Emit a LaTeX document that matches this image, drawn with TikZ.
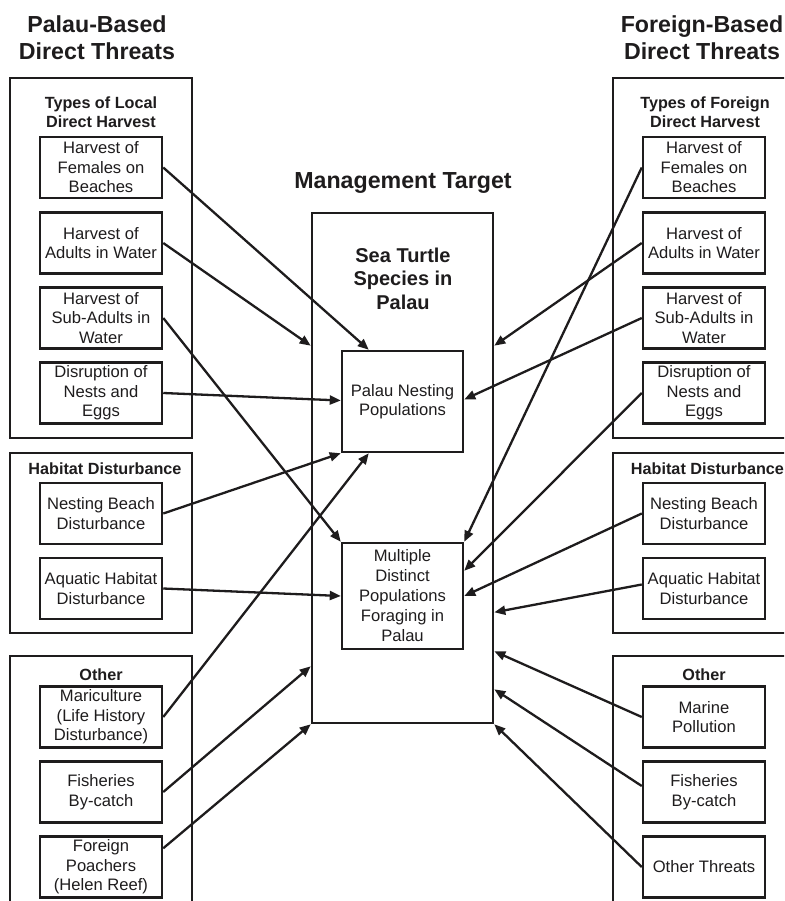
\documentclass[tikz,border=0pt]{standalone}
\usepackage{fontspec}
\setmainfont{Liberation Sans}
\usetikzlibrary{arrows.meta}

\definecolor{ink}{RGB}{30,28,29}

\begin{document}
\begin{tikzpicture}[x=1pt,y=-1pt,
  every node/.style={text=ink},
  itembox/.style={draw=ink,line width=2.5pt,minimum width=122pt,minimum height=61pt,
    inner sep=0pt,align=center,font=\fontsize{16.6}{19.5}\selectfont},
  grpframe/.style={draw=ink,line width=2.6pt},
  grplabel/.style={align=center,inner sep=0pt,font=\fontsize{16.2}{19}\selectfont\bfseries},
  headline/.style={align=center,inner sep=0pt,font=\fontsize{23.2}{26.5}\selectfont\bfseries},
  conn/.style={draw=ink,line width=2.3pt,-{Triangle[length=11pt,width=9pt]}}
]
\useasboundingbox (0,0) rectangle (784,901);
\clip (0,0) rectangle (784,901);

% column headings
\node[headline] (hL) at (97,37.5) {Palau-Based\\Direct Threats};
\node[headline] (hR) at (702,37.5) {Foreign-Based\\Direct Threats};
\node[headline] (hM) at (403,183) {Management Target};

% group frames, left column
\draw[grpframe] (10,78) rectangle (192,438);
\draw[grpframe] (10,453) rectangle (192,633);
\draw[grpframe] (10,656) rectangle (192,930);
% group frames, right column
\draw[grpframe] (613,78) rectangle (795,438);
\draw[grpframe] (613,453) rectangle (795,633);
\draw[grpframe] (613,656) rectangle (795,930);

% group titles
\node[grplabel] (gL1) at (101,112.5) {Types of Local\\Direct Harvest};
\node[grplabel] (gL2) at (105,469) {Habitat Disturbance};
\node[grplabel] (gL3) at (101,675) {Other};
\node[grplabel] (gR1) at (705,112.5) {Types of Foreign\\Direct Harvest};
\node[grplabel] (gR2) at (707.5,469) {Habitat Disturbance};
\node[grplabel] (gR3) at (704,675) {Other};

% left threats
\node[itembox] (L1) at (101,167.5) {Harvest of\\Females on\\Beaches};
\node[itembox] (L2) at (101,243) {Harvest of\\Adults in Water};
\node[itembox] (L3) at (101,318) {Harvest of\\Sub-Adults in\\Water};
\node[itembox] (L4) at (101,393) {Disruption of\\Nests and\\Eggs};
\node[itembox] (L5) at (101,513.5) {Nesting Beach\\Disturbance};
\node[itembox] (L6) at (101,588.5) {Aquatic Habitat\\Disturbance};
\node[itembox] (L7) at (101,717) {Mariculture\\(Life History\\Disturbance)};
\node[itembox] (L8) at (101,792) {Fisheries\\By-catch};
\node[itembox] (L9) at (101,867) {Foreign\\Poachers\\(Helen Reef)};

% right threats
\node[itembox] (R1) at (704,167.5) {Harvest of\\Females on\\Beaches};
\node[itembox] (R2) at (704,243) {Harvest of\\Adults in Water};
\node[itembox] (R3) at (704,318) {Harvest of\\Sub-Adults in\\Water};
\node[itembox] (R4) at (704,393) {Disruption of\\Nests and\\Eggs};
\node[itembox] (R5) at (704,513.5) {Nesting Beach\\Disturbance};
\node[itembox] (R6) at (704,588.5) {Aquatic Habitat\\Disturbance};
\node[itembox] (R7) at (704,717) {Marine\\Pollution};
\node[itembox] (R8) at (704,792) {Fisheries\\By-catch};
\node[itembox] (R9) at (704,867) {Other Threats};

% management target
\node[draw=ink,line width=2.6pt,minimum width=181pt,minimum height=510pt,inner sep=0pt] (C) at (402.5,468) {};
\node[align=center,inner sep=0pt,font=\fontsize{20}{23.5}\selectfont\bfseries] (CT) at (403,278.5) {Sea Turtle\\Species in\\Palau};
\node[itembox,minimum width=121pt,minimum height=101pt] (PN) at (402.5,401.5) {Palau Nesting\\Populations};
\node[itembox,minimum width=121pt,minimum height=106pt,font=\fontsize{16.6}{20}\selectfont] (MP) at (402.5,596) {Multiple\\Distinct\\Populations\\Foraging in\\Palau};

% connectors from the left
\draw[conn] (L1.east) -- ([xshift=28pt]PN.north west);
\draw[conn] (L2.east) -- ([yshift=-134pt]C.north west);
\draw[conn] (L3.east) -- (MP.north west);
\draw[conn] (L4.east) -- ([yshift=1pt]PN.west);
\draw[conn] (L5.east) -- (PN.south west);
\draw[conn] (L6.east) -- (MP.west);
\draw[conn] (L7.east) -- ([xshift=28pt]PN.south west);
\draw[conn] (L8.east) -- ([yshift=58pt]C.south west);
\draw[conn] ([yshift=-13pt]L9.north east) -- (C.south west);

% connectors from the right
\draw[conn] (R1.west) -- (MP.north east);
\draw[conn] (R2.west) -- ([yshift=-134pt]C.north east);
\draw[conn] (R3.west) -- ([yshift=2pt]PN.east);
\draw[conn] (R4.west) -- ([yshift=-29pt]MP.north east);
\draw[conn] (R5.west) -- (MP.east);
\draw[conn] ([yshift=4pt]R6.west) -- ([yshift=112pt]C.south east);
\draw[conn] (R7.west) -- ([yshift=73pt]C.south east);
\draw[conn] ([yshift=6pt]R8.west) -- ([yshift=35pt]C.south east);
\draw[conn] (R9.west) -- (C.south east);
\end{tikzpicture}
\end{document}
